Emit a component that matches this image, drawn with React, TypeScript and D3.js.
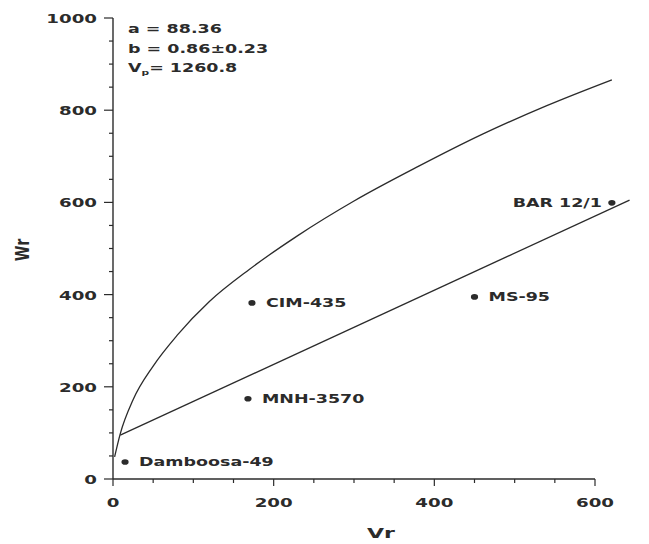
import React from "react";
import * as d3 from "d3";

// Fitted regression line Wr = a + b·Vr (end points)
const lineVr = [9, 643];
const lineWr = [95, 605];

// Limiting parabola, sampled along its course
const parabolaVr = [2, 9, 25, 50, 80, 120, 170, 230, 300, 380, 460, 540, 621];
const parabolaWr = [48, 98, 172, 245, 312, 385, 455, 528, 603, 678, 748, 810, 866];

// Parental array points
const parentNames = ["Damboosa-49", "MNH-3570", "CIM-435", "MS-95", "BAR 12/1"];
const parentVr = [15, 168, 173, 450, 621];
const parentWr = [37, 174, 382, 395, 599];
const labelSide = ["right", "right", "right", "right", "left"];

// Axis ticks
const xTicks = [0, 200, 400, 600];
const yTicks = [0, 200, 400, 600, 800, 1000];

// Statistics shown in the top-left corner
const statA = "88.36";
const statB = "0.86±0.23";
const statVp = "1260.8";

const W = 649;
const H = 544;
const INK = "#2b2b2b";
const FONT = "'DejaVu Sans', sans-serif";
const SX = 1.52;

function WideText({
  x,
  y,
  anchor = "start",
  size = 12,
  children,
}: {
  x: number;
  y: number;
  anchor?: "start" | "middle" | "end";
  size?: number;
  children: React.ReactNode;
}) {
  return (
    <text
      transform={`translate(${x},${y}) scale(${SX},1)`}
      textAnchor={anchor}
      fontFamily={FONT}
      fontWeight="bold"
      fontSize={size}
      fill={INK}
    >
      {children}
    </text>
  );
}

export default function App() {
  const x = d3.scaleLinear().domain([0, 600]).range([113, 595]);
  const y = d3.scaleLinear().domain([0, 1000]).range([479, 18]);

  const path = d3
    .line<[number, number]>()
    .x((d) => x(d[0]))
    .y((d) => y(d[1]));

  const parabola = d3
    .line<[number, number]>()
    .x((d) => x(d[0]))
    .y((d) => y(d[1]))
    .curve(d3.curveMonotoneX);

  const regPts: [number, number][] = lineVr.map((v, i) => [v, lineWr[i]]);
  const parPts: [number, number][] = parabolaVr.map((v, i) => [v, parabolaWr[i]]);

  const xMinor = d3.range(0, 601, 50);
  const yMinor = d3.range(0, 1001, 50);

  return (
    <svg
      width={W}
      height={H}
      style={{ position: "absolute", left: 0, top: 0, background: "#fff" }}
    >
      {/* axes */}
      <line x1={x(0)} x2={x(0)} y1={y(0)} y2={y(1000)} stroke={INK} strokeWidth={1.4} />
      <line x1={x(0)} x2={x(600)} y1={y(0)} y2={y(0)} stroke={INK} strokeWidth={1.4} />

      {yMinor.map((t) => {
        const major = t % 200 === 0;
        return (
          <line
            key={"ym" + t}
            x1={x(0) - (major ? 9 : 4)}
            x2={x(0)}
            y1={y(t)}
            y2={y(t)}
            stroke={INK}
            strokeWidth={1.2}
          />
        );
      })}
      {xMinor.map((t) => {
        const major = t % 200 === 0;
        return (
          <line
            key={"xm" + t}
            x1={x(t)}
            x2={x(t)}
            y1={y(0)}
            y2={y(0) + (major ? 7 : 4)}
            stroke={INK}
            strokeWidth={1.2}
          />
        );
      })}

      {yTicks.map((t) => (
        <WideText key={"yl" + t} x={97} y={y(t) + 5} anchor="end">
          {t}
        </WideText>
      ))}
      {xTicks.map((t) => (
        <WideText key={"xl" + t} x={x(t)} y={507} anchor="middle">
          {t}
        </WideText>
      ))}

      {/* axis titles */}
      <WideText x={381} y={538} anchor="middle" size={14.5}>
        Vr
      </WideText>
      <text
        transform={`translate(29,250) rotate(-90) scale(0.95,1.3)`}
        textAnchor="middle"
        fontFamily={FONT}
        fontWeight="bold"
        fontSize={15}
        fill={INK}
      >
        Wr
      </text>

      {/* regression line and limiting parabola */}
      <path d={path(regPts) ?? ""} fill="none" stroke={INK} strokeWidth={1.3} />
      <path d={parabola(parPts) ?? ""} fill="none" stroke={INK} strokeWidth={1.3} />

      {/* parents */}
      {parentNames.map((name, i) => {
        const px = x(parentVr[i]);
        const py = y(parentWr[i]);
        const left = labelSide[i] === "left";
        return (
          <g key={name}>
            <ellipse cx={px} cy={py} rx={3.6} ry={2.8} fill={INK} />
            <WideText
              x={left ? px - 10 : px + 14}
              y={py + 4.5}
              anchor={left ? "end" : "start"}
              size={11.5}
            >
              {name}
            </WideText>
          </g>
        );
      })}

      {/* statistics */}
      <WideText x={128} y={33} size={11.5}>
        {"a = " + statA}
      </WideText>
      <WideText x={128} y={53} size={11.5}>
        {"b = " + statB}
      </WideText>
      <WideText x={128} y={72} size={11.5}>
        V
        <tspan fontSize={7} dy={3}>
          p
        </tspan>
        <tspan dy={-3}>{"= " + statVp}</tspan>
      </WideText>
    </svg>
  );
}
